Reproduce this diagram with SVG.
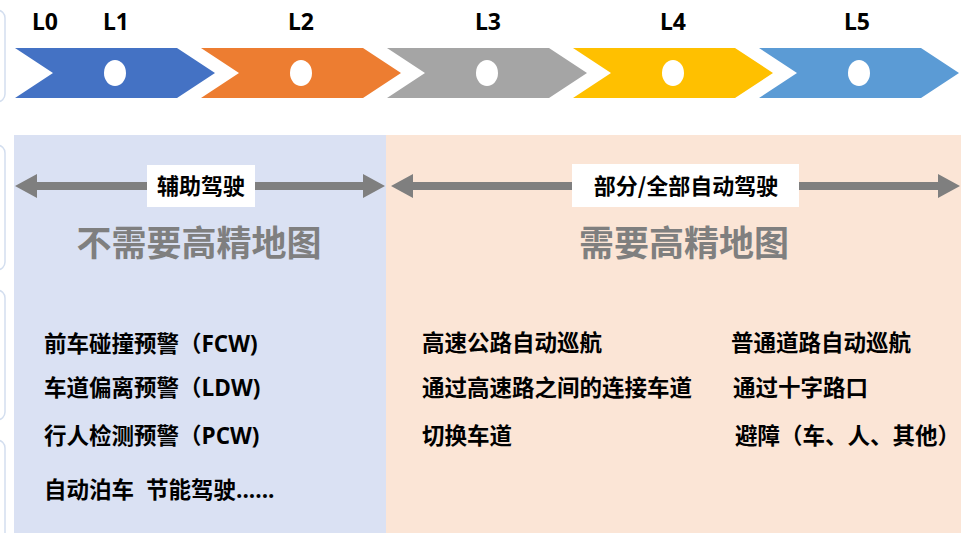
<svg xmlns="http://www.w3.org/2000/svg" width="961" height="533" viewBox="0 0 961 533">
<style>
.lvl{font-family:"Noto Sans","Noto Sans CJK SC",sans-serif;font-weight:bold;font-size:23px;fill:#000;text-anchor:middle}
.dot{fill:#fff}
.tag{font-family:"Noto Sans CJK SC",sans-serif;font-weight:bold;font-size:22px;fill:#000;text-anchor:middle}
.big{font-family:"Noto Sans CJK SC",sans-serif;font-weight:bold;font-size:35px;fill:#7F7F7F;text-anchor:middle}
.item{font-family:"Noto Sans CJK SC",sans-serif;font-weight:bold;font-size:22.5px;fill:#000}
.lat{font-family:"Open Sans","Noto Sans",sans-serif;font-weight:bold}
.arr{fill:#7F7F7F}
.edge{fill:#fff;stroke:#D3DEEF;stroke-width:1.5}
</style>
<rect width="961" height="533" fill="#fff"/>
<g id="edge-frames">
<rect class="edge" x="-20" y="10" width="25" height="92" rx="8"/>
<rect class="edge" x="-20" y="145" width="25" height="125" rx="8"/>
<rect class="edge" x="-20" y="290" width="25" height="130" rx="8"/>
<rect class="edge" x="-20" y="440" width="25" height="110" rx="8"/>
</g>
<g id="panel-left"><rect x="14" y="135" width="372" height="398" fill="#DAE1F3"/></g>
<g id="panel-right"><rect x="386" y="135" width="575" height="398" fill="#FBE5D6"/></g>
<g id="levels">
<text class="lvl" x="45" y="30">L0</text>
<g id="L1"><polygon points="15,48 177,48 215,73 177,98 15,98 53,73" fill="#4472C4"/><ellipse class="dot" cx="115" cy="73" rx="11" ry="13"/><text class="lvl" x="116" y="30">L1</text></g>
<g id="L2"><polygon points="201,48 363,48 401,73 363,98 201,98 239,73" fill="#ED7D31"/><ellipse class="dot" cx="301" cy="73" rx="11" ry="13"/><text class="lvl" x="301" y="30">L2</text></g>
<g id="L3"><polygon points="387,48 549,48 587,73 549,98 387,98 425,73" fill="#A5A5A5"/><ellipse class="dot" cx="487" cy="73" rx="11" ry="13"/><text class="lvl" x="488" y="30">L3</text></g>
<g id="L4"><polygon points="573,48 735,48 773,73 735,98 573,98 611,73" fill="#FFC000"/><ellipse class="dot" cx="673" cy="73" rx="11" ry="13"/><text class="lvl" x="673" y="30">L4</text></g>
<g id="L5"><polygon points="759,48 921,48 959,73 921,98 759,98 797,73" fill="#5B9BD5"/><ellipse class="dot" cx="859" cy="73" rx="11" ry="13"/><text class="lvl" x="857" y="30">L5</text></g>
</g>
<g id="connectors">
<polygon class="arr" points="15,186 37,174 37,182 363,182 363,174 385,186 363,198 363,190 37,190 37,198"/>
<polygon class="arr" points="391,186 413,174 413,182 938,182 938,174 960,186 938,198 938,190 413,190 413,198"/>
</g>
<g id="tag-assist"><rect x="147" y="165" width="108" height="42" fill="#fff"/><text class="tag" x="201" y="194">辅助驾驶</text></g>
<g id="tag-auto"><rect x="572" y="164" width="227" height="43" fill="#fff"/><text class="tag" x="686" y="194">部分/全部自动驾驶</text></g>
<g id="left-content">
<text class="big" x="199" y="256">不需要高精地图</text>
<text class="item" x="44" y="352">前车碰撞预警（<tspan class="lat">FCW)</tspan></text>
<text class="item" x="44" y="396">车道偏离预警（<tspan class="lat">LDW)</tspan></text>
<text class="item" x="44" y="444">行人检测预警（<tspan class="lat">PCW)</tspan></text>
<text class="item" x="44" y="498">自动泊车<tspan x="146">节能驾驶</tspan><tspan class="lat">......</tspan></text>
</g>
<g id="right-content">
<text class="big" x="684" y="256">需要高精地图</text>
<text class="item" x="422" y="351">高速公路自动巡航</text>
<text class="item" x="422" y="396">通过高速路之间的连接车道</text>
<text class="item" x="422" y="444">切换车道</text>
<text class="item" x="731" y="351">普通道路自动巡航</text>
<text class="item" x="733" y="396">通过十字路口</text>
<text class="item" x="735" y="444">避障（车、人、其他）</text>
</g>
</svg>
